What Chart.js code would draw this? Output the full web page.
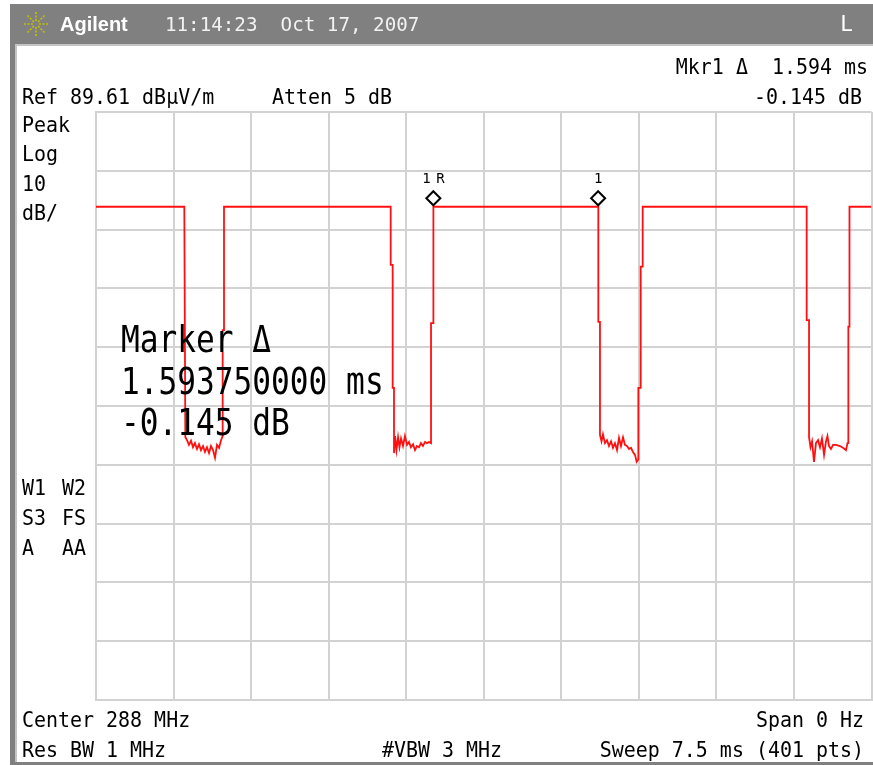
<!DOCTYPE html>
<html>
<head>
<meta charset="utf-8">
<script src="https://cdn.jsdelivr.net/npm/chart.js@4/dist/chart.umd.min.js"></script>
<style>
  html, body { margin: 0; padding: 0; background: #fff; }
  canvas { display: block; }
</style>
</head>
<body>
<canvas id="grafico-traza" width="873" height="765"></canvas>
<script>
// trace: time in ms, level in dBuV/m
const traceTime = [
  0, 0.854,
  0.864, 0.880, 0.899, 0.919, 0.938, 0.957, 0.977, 0.996, 1.015, 1.035,
  1.054, 1.073, 1.093, 1.112, 1.132, 1.151, 1.170, 1.190, 1.209, 1.225,
  1.225, 1.238, 1.238,
  2.850, 2.850, 2.869, 2.869, 2.882, 2.882,
  2.892, 2.906, 2.921, 2.935, 2.950, 2.969, 2.988, 3.008, 3.027, 3.046,
  3.066, 3.085, 3.104, 3.124, 3.143, 3.162, 3.182, 3.201, 3.221, 3.240,
  3.240, 3.263, 3.263,
  4.858, 4.858, 4.874, 4.874,
  4.889, 4.903, 4.922, 4.942, 4.961, 4.981, 5.000, 5.019, 5.039, 5.058,
  5.077, 5.097, 5.116, 5.135, 5.155, 5.174, 5.193, 5.213, 5.229,
  5.245, 5.245, 5.268, 5.268, 5.287, 5.287,
  6.873, 6.873, 6.896, 6.896,
  6.910, 6.925, 6.944, 6.963, 6.983, 7.002, 7.021, 7.041, 7.060, 7.074,
  7.089, 7.108, 7.128, 7.157, 7.195, 7.224, 7.253, 7.268,
  7.276, 7.276, 7.287, 7.287, 7.5
];
const traceLevel = [
  73.5, 73.5,
  34.3, 33.8, 33.0, 33.7, 32.6, 33.3, 32.3, 33.1, 32.1, 32.8,
  31.8, 32.6, 31.6, 32.8, 32.1, 30.8, 33.0, 32.5, 33.8, 34.5,
  52.5, 52.5, 73.5,
  73.5, 63.6, 63.6, 42.7, 42.7, 31.6,
  34.5, 32.1, 34.3, 32.6, 34.1, 32.8, 34.5, 33.0, 33.5, 32.6,
  33.1, 32.1, 32.8, 32.6, 33.3, 32.8, 33.5, 33.3, 33.5, 33.3,
  53.7, 53.7, 73.5,
  73.5, 53.9, 53.9, 34.7,
  33.6, 34.8, 33.3, 33.8, 32.8, 33.6, 32.5, 33.3, 32.1, 34.2,
  32.8, 34.3, 33.0, 32.8, 32.3, 32.5, 31.8, 31.3, 30.1,
  30.5, 42.7, 42.7, 63.3, 63.3, 73.5,
  73.5, 54.2, 54.2, 34.3,
  32.6, 33.6, 30.1, 33.3, 33.8, 32.6, 34.1, 31.3, 33.6, 34.5,
  32.8, 32.3, 33.0, 33.0, 32.8, 32.5, 32.1, 33.3,
  33.3, 53.1, 53.1, 73.5, 73.5
];

const refLevel = 89.61;
const dbPerDiv = 10;
const sweepMs = 7.5;
const divisions = 10;

const markerTimes = [3.2625, 4.85625];
const markerLevels = [73.5, 73.5];
const markerLabels = ['1R', '1'];

const infoLeftTop = ['Peak', 'Log', '10', 'dB/'];
const infoLeftMid = [['W1', 'W2'], ['S3', 'FS'], ['A', 'AA']];
const markerReadout = ['Marker \u0394', '1.593750000 ms', '-0.145 dB'];

const MONO = '"DejaVu Sans Mono", "Liberation Mono", monospace';

function texto(ctx, s, x, y, size, sx, align, color, font, weight) {
  ctx.save();
  ctx.font = (weight ? weight + ' ' : '') + size + 'px ' + (font || MONO);
  ctx.fillStyle = color || '#000';
  ctx.textBaseline = 'alphabetic';
  ctx.textAlign = 'left';
  const w = ctx.measureText(s).width * sx;
  let x0 = x;
  if (align === 'right') x0 = x - w;
  if (align === 'center') x0 = x - w / 2;
  ctx.translate(x0, y);
  ctx.scale(sx, 1);
  ctx.fillText(s, 0, 0);
  ctx.restore();
}

const marco = {
  id: 'marco',
  beforeDraw(chart) {
    const ctx = chart.ctx;
    ctx.save();
    ctx.fillStyle = '#ffffff';
    ctx.fillRect(0, 0, chart.width, chart.height);
    // header bar and frame
    ctx.fillStyle = '#808080';
    ctx.fillRect(10, 4, chart.width - 10, 40);
    ctx.fillRect(10, 44, 5, chart.height - 44);
    ctx.fillRect(10, 762, chart.width - 10, 3);
    ctx.fillStyle = '#c4c4c4';
    ctx.fillRect(15, 44, chart.width - 15, 2);
    ctx.fillRect(15, 46, 2, 716);
    // logo
    ctx.strokeStyle = '#c8c000';
    ctx.lineWidth = 1.6;
    ctx.setLineDash([2, 1.5]);
    for (let k = 0; k < 8; k++) {
      const a = k * Math.PI / 4;
      ctx.beginPath();
      ctx.moveTo(36 + Math.cos(a) * 3, 24 + Math.sin(a) * 3);
      ctx.lineTo(36 + Math.cos(a) * 12, 24 + Math.sin(a) * 12);
      ctx.stroke();
    }
    ctx.setLineDash([]);
    ctx.restore();
  },
  afterDraw(chart) {
    const ctx = chart.ctx;
    const xs = chart.scales.x, ys = chart.scales.y;

    // header
    texto(ctx, 'Agilent', 60, 31, 20, 1, 'left', '#ffffff', '"Liberation Sans", Arial, sans-serif', 'bold');
    texto(ctx, '11:14:23  Oct 17, 2007', 165, 31, 20, 0.96, 'left', '#f2f2f2');
    texto(ctx, 'L', 853, 31, 21, 1, 'right', '#ffffff');

    // top annotations
    texto(ctx, 'Mkr1 \u0394  1.594 ms', 868, 74, 21, 0.95, 'right');
    texto(ctx, 'Ref 89.61 dB\u03bcV/m', 22, 104, 21, 0.95, 'left');
    texto(ctx, 'Atten 5 dB', 272, 104, 21, 0.95, 'left');
    texto(ctx, '-0.145 dB', 862, 104, 21, 0.95, 'right');

    infoLeftTop.forEach((s, i) => texto(ctx, s, 22, 132 + i * 29.3, 21, 0.95, 'left'));
    infoLeftMid.forEach((p, i) => {
      texto(ctx, p[0], 22, 495 + i * 30, 21, 0.95, 'left');
      texto(ctx, p[1], 62, 495 + i * 30, 21, 0.95, 'left');
    });

    // bottom annotations
    texto(ctx, 'Center 288 MHz', 22, 727, 21, 0.95, 'left');
    texto(ctx, 'Span 0 Hz', 864, 727, 21, 0.95, 'right');
    texto(ctx, 'Res BW 1 MHz', 22, 757, 21, 0.95, 'left');
    texto(ctx, '#VBW 3 MHz', 382, 757, 21, 0.95, 'left');
    texto(ctx, 'Sweep 7.5 ms (401 pts)', 864, 757, 21, 0.95, 'right');

    // markers
    markerTimes.forEach((t, i) => {
      const px = xs.getPixelForValue(t);
      const py = ys.getPixelForValue(markerLevels[i]) - 8.5;
      ctx.save();
      ctx.beginPath();
      ctx.moveTo(px, py - 7);
      ctx.lineTo(px + 7, py);
      ctx.lineTo(px, py + 7);
      ctx.lineTo(px - 7, py);
      ctx.closePath();
      ctx.fillStyle = '#fff';
      ctx.fill();
      ctx.strokeStyle = '#000';
      ctx.lineWidth = 2;
      ctx.stroke();
      ctx.restore();
      const lab = markerLabels[i];
      for (let c = 0; c < lab.length; c++) {
        const cx = px - (lab.length - 1) * 7 + c * 14;
        texto(ctx, lab[c], cx, py - 15, 14, 1, 'center');
      }
    });

    // big marker readout
    markerReadout.forEach((s, i) => texto(ctx, s, 121, 352 + i * 41.5, 38, 0.82, 'left'));
  }
};

const rejilla = { color: '#d2d2d2', lineWidth: 2, drawTicks: false };
const borde = { display: true, color: '#d2d2d2', width: 2 };

new Chart(document.getElementById('grafico-traza'), {
  type: 'scatter',
  data: {
    datasets: [{
      data: traceTime.map((t, i) => ({ x: t, y: traceLevel[i] })),
      showLine: true,
      borderColor: '#ff1010',
      borderWidth: 1.8,
      pointRadius: 0,
      tension: 0,
      fill: false
    }]
  },
  options: {
    responsive: false,
    animation: false,
    layout: { padding: { left: 96, top: 112, right: 1.5, bottom: 65 } },
    plugins: { legend: { display: false }, tooltip: { enabled: false } },
    scales: {
      x: {
        type: 'linear',
        min: 0,
        max: sweepMs,
        afterBuildTicks: ax => {
          ax.ticks = [];
          for (let i = 0; i <= divisions; i++) ax.ticks.push({ value: i * sweepMs / divisions });
        },
        ticks: { display: false },
        grid: rejilla,
        border: borde
      },
      y: {
        type: 'linear',
        min: refLevel - dbPerDiv * divisions,
        max: refLevel,
        afterBuildTicks: ax => {
          ax.ticks = [];
          for (let i = 0; i <= divisions; i++) ax.ticks.push({ value: refLevel - i * dbPerDiv });
        },
        ticks: { display: false },
        grid: rejilla,
        border: borde
      }
    }
  },
  plugins: [marco]
});
</script>
</body>
</html>
